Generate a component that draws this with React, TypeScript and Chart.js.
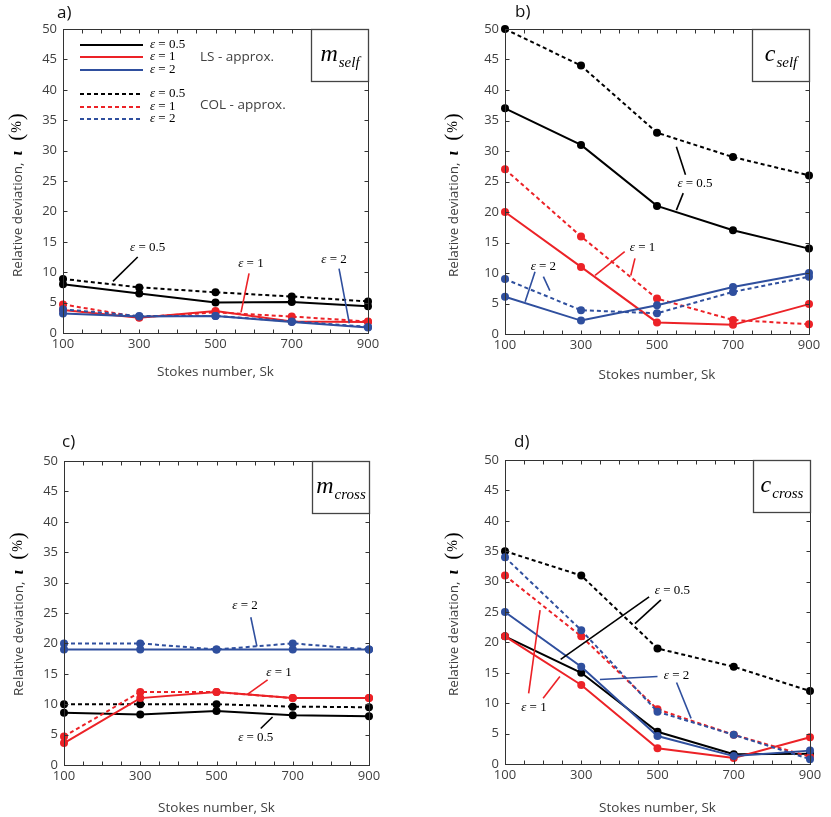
import React, { useEffect, useRef } from "react";
import { Chart, registerables } from "chart.js";

Chart.register(...registerables);

// ---------- data ----------
const stokes = [100, 300, 500, 700, 900];
const xTickValues = [100, 300, 500, 700, 900];
const xTickMarks = [100, 150, 200, 250, 300, 350, 400, 450, 500, 550, 600, 650, 700, 750, 800, 850, 900];
const yTickValues = [0, 5, 10, 15, 20, 25, 30, 35, 40, 45, 50];
const epsValues = ["0.5", "1", "2"];

// a) m_self
const aLS05 = [8.0, 6.5, 5.0, 5.1, 4.4];
const aLS1 = [3.8, 2.5, 3.6, 1.9, 1.8];
const aLS2 = [3.2, 2.7, 2.8, 1.8, 0.9];
const aCOL05 = [8.9, 7.5, 6.7, 6.0, 5.2];
const aCOL1 = [4.7, 2.6, 3.4, 2.7, 1.9];
const aCOL2 = [3.9, 2.8, 2.8, 1.9, 1.0];

// b) c_self
const bLS05 = [37, 31, 21, 17, 14];
const bLS1 = [20, 11, 1.9, 1.5, 4.9];
const bLS2 = [6.1, 2.2, 4.7, 7.7, 10];
const bCOL05 = [50, 44, 33, 29, 26];
const bCOL1 = [27, 16, 5.8, 2.3, 1.6];
const bCOL2 = [9, 3.9, 3.4, 6.9, 9.4];

// c) m_cross
const cLS05 = [8.6, 8.3, 8.9, 8.2, 8.0];
const cLS1 = [3.6, 11, 12, 11, 11];
const cLS2 = [19, 19, 19, 19, 19];
const cCOL05 = [10, 10, 10, 9.6, 9.5];
const cCOL1 = [4.7, 12, 12, 11, 11];
const cCOL2 = [20, 20, 19, 20, 19];

// d) c_cross
const dLS05 = [21, 15, 5.3, 1.6, 1.7];
const dLS1 = [21, 13, 2.6, 1.0, 4.4];
const dLS2 = [25, 16, 4.6, 1.3, 2.2];
const dCOL05 = [35, 31, 19, 16, 12];
const dCOL1 = [31, 21, 9, 4.8, 1.2];
const dCOL2 = [34, 22, 8.6, 4.8, 0.8];

// ---------- styles ----------
const BLACK = "#000000";
const RED = "#ec2227";
const BLUE = "#2f4f9e";
const SERIES_COLORS = [BLACK, RED, BLUE];
const TEXT = "#404040";
const AXIS = "#333333";
const SANS = '"Open Sans", "Noto Sans", sans-serif';
const SERIF = '"Liberation Serif", "DejaVu Serif", serif';

type Note = { eps: string; at: [number, number]; color: string; leaders: [number, number, number, number][] };
type Panel = {
  id: string;
  label: string;
  sym: string;
  sub: string;
  canvas: { x: number; y: number; w: number; h: number };
  plot: { l: number; t: number; r: number; b: number };
  yTitle: { x: number; y: number };
  xTitleDy: number;
  labelPos: { dx: number; dy: number };
  ls: number[][];
  col: number[][];
  notes: Note[];
  legend: boolean;
};

const panels: Panel[] = [
  {
    id: "a", label: "a)", sym: "m", sub: "self",
    canvas: { x: 0, y: 0, w: 415, h: 405 },
    plot: { l: 63, t: 29, r: 368, b: 333 },
    yTitle: { x: 22, y: 277 },
    xTitleDy: 39,
    labelPos: { dx: -6, dy: -15.5 },
    ls: [aLS05, aLS1, aLS2],
    col: [aCOL05, aCOL1, aCOL2],
    notes: [
      { eps: "0.5", at: [322, 14.1], color: BLACK, leaders: [[296, 12.5, 231, 8.5]] },
      { eps: "1", at: [593, 11.5], color: RED, leaders: [[588, 9.8, 567, 3.4]] },
      { eps: "2", at: [811, 12.0], color: BLUE, leaders: [[824, 10.6, 851, 1.6]] },
    ],
    legend: true,
  },
  {
    id: "b", label: "b)", sym: "c", sub: "self",
    canvas: { x: 415, y: 0, w: 416, h: 405 },
    plot: { l: 505, t: 29, r: 809, b: 334 },
    yTitle: { x: 458, y: 277 },
    xTitleDy: 41,
    labelPos: { dx: 10, dy: -17 },
    ls: [bLS05, bLS1, bLS2],
    col: [bCOL05, bCOL1, bCOL2],
    notes: [
      { eps: "0.5", at: [600, 24.7], color: BLACK, leaders: [[551, 30.7, 575, 26.1], [569, 23.1, 551, 20.3]] },
      { eps: "1", at: [462, 14.2], color: RED, leaders: [[415, 13.5, 337, 9.6], [442, 12.4, 431, 9.6]] },
      { eps: "2", at: [201, 11.0], color: BLUE, leaders: [[179, 10.2, 153, 5.3], [201, 9.4, 218, 7.1]] },
    ],
    legend: false,
  },
  {
    id: "c", label: "c)", sym: "m", sub: "cross",
    canvas: { x: 0, y: 405, w: 415, h: 412 },
    plot: { l: 64, t: 461, r: 369, b: 765 },
    yTitle: { x: 23, y: 696 },
    xTitleDy: 43,
    labelPos: { dx: -2, dy: -19 },
    ls: [cLS05, cLS1, cLS2],
    col: [cCOL05, cCOL1, cCOL2],
    notes: [
      { eps: "2", at: [575, 26.2], color: BLUE, leaders: [[590, 24.3, 606, 19.5]] },
      { eps: "1", at: [664, 15.2], color: RED, leaders: [[634, 14.0, 581, 11.6]] },
      { eps: "0.5", at: [603, 4.5], color: BLACK, leaders: [[616, 6.0, 647, 7.9]] },
    ],
    legend: false,
  },
  {
    id: "d", label: "d)", sym: "c", sub: "cross",
    canvas: { x: 415, y: 405, w: 416, h: 412 },
    plot: { l: 505, t: 460, r: 810, b: 764 },
    yTitle: { x: 458, y: 696 },
    xTitleDy: 44,
    labelPos: { dx: 9, dy: -18 },
    ls: [dLS05, dLS1, dLS2],
    col: [dCOL05, dCOL1, dCOL2],
    notes: [
      { eps: "0.5", at: [539, 28.6], color: BLACK, leaders: [[478, 27.5, 246, 17.2], [509, 27.0, 441, 23.1]] },
      { eps: "2", at: [550, 14.6], color: BLUE, leaders: [[500, 14.4, 349, 13.9], [550, 13.4, 588, 7.5]] },
      { eps: "1", at: [176, 9.3], color: RED, leaders: [[162, 11.6, 192, 25.3], [200, 10.8, 244, 14.4]] },
    ],
    legend: false,
  },
];

const LEGEND = {
  solidRows: [16, 28, 41],
  dashedRows: [65, 78, 90],
  lineFrom: 17,
  lineTo: 80,
  textAt: 87,
  groupTextX: 137,
  lsY: 28,
  colY: 76,
};

const DASH = [4, 3];

function drawEps(ctx: CanvasRenderingContext2D, eps: string, x: number, y: number, align: "left" | "center") {
  const size = 13;
  ctx.font = `italic ${size}px ${SERIF}`;
  const w1 = ctx.measureText("ε").width;
  ctx.font = `${size}px ${SERIF}`;
  const rest = " = " + eps;
  const w2 = ctx.measureText(rest).width;
  const start = align === "center" ? x - (w1 + w2) / 2 : x;
  ctx.textAlign = "left";
  ctx.textBaseline = "middle";
  ctx.fillStyle = "#000";
  ctx.font = `italic ${size}px ${SERIF}`;
  ctx.fillText("ε", start, y);
  ctx.font = `${size}px ${SERIF}`;
  ctx.fillText(rest, start + w1, y);
}

function PanelChart({ p }: { p: Panel }) {
  const ref = useRef<HTMLCanvasElement>(null);
  useEffect(() => {
    const canvas = ref.current;
    if (!canvas) return;
    const yw = 30;
    const xh = 30;
    const padding = {
      left: p.plot.l - p.canvas.x - yw,
      top: p.plot.t - p.canvas.y,
      right: p.canvas.x + p.canvas.w - p.plot.r,
      bottom: p.canvas.y + p.canvas.h - p.plot.b - xh,
    };

    const datasets: any[] = [];
    for (const i of [2, 1, 0]) {
      const color = SERIES_COLORS[i];
      const common = {
        borderColor: color,
        backgroundColor: color,
        pointBackgroundColor: color,
        pointBorderColor: color,
        pointBorderWidth: 0,
        pointRadius: 4,
        pointHoverRadius: 4,
        borderWidth: 2,
        tension: 0,
        clip: false,
      };
      datasets.push({
        ...common,
        label: `LS ε=${epsValues[i]}`,
        data: stokes.map((x, k) => ({ x, y: p.ls[i][k] })),
      });
      datasets.push({
        ...common,
        label: `COL ε=${epsValues[i]}`,
        data: stokes.map((x, k) => ({ x, y: p.col[i][k] })),
        borderDash: DASH,
      });
    }

    const deco = {
      id: "deco" + p.id,
      afterDatasetsDraw(chart: any) {
        const ctx: CanvasRenderingContext2D = chart.ctx;
        const a = chart.chartArea;
        const xs = chart.scales.x;
        const ys = chart.scales.y;
        ctx.save();

        // annotations
        for (const n of p.notes) {
          ctx.strokeStyle = n.color;
          ctx.lineWidth = 1.6;
          ctx.setLineDash([]);
          for (const [x1, y1, x2, y2] of n.leaders) {
            ctx.beginPath();
            ctx.moveTo(xs.getPixelForValue(x1), ys.getPixelForValue(y1));
            ctx.lineTo(xs.getPixelForValue(x2), ys.getPixelForValue(y2));
            ctx.stroke();
          }
          drawEps(ctx, n.eps, xs.getPixelForValue(n.at[0]), ys.getPixelForValue(n.at[1]), "center");
        }

        // legend
        if (p.legend) {
          const rows = [LEGEND.solidRows, LEGEND.dashedRows];
          rows.forEach((r, ri) => {
            r.forEach((dy, i) => {
              ctx.strokeStyle = SERIES_COLORS[i];
              ctx.lineWidth = 2.2;
              ctx.setLineDash(ri === 0 ? [] : DASH);
              ctx.beginPath();
              ctx.moveTo(a.left + LEGEND.lineFrom, a.top + dy);
              ctx.lineTo(a.left + LEGEND.lineTo, a.top + dy);
              ctx.stroke();
              ctx.setLineDash([]);
              drawEps(ctx, epsValues[i], a.left + LEGEND.textAt, a.top + dy, "left");
            });
          });
          ctx.font = `13.5px ${SANS}`;
          ctx.fillStyle = TEXT;
          ctx.textAlign = "left";
          ctx.textBaseline = "middle";
          ctx.fillText("LS - approx.", a.left + LEGEND.groupTextX, a.top + LEGEND.lsY);
          ctx.fillText("COL - approx.", a.left + LEGEND.groupTextX, a.top + LEGEND.colY);
        }

        // frame
        ctx.setLineDash([]);
        ctx.strokeStyle = AXIS;
        ctx.lineWidth = 1;
        const L = Math.round(a.left) + 0.5;
        const R = Math.round(a.right) + 0.5;
        const T = Math.round(a.top) + 0.5;
        const B = Math.round(a.bottom) + 0.5;
        ctx.strokeRect(L, T, R - L, B - T);
        const tl = 4;
        ctx.beginPath();
        for (const v of xTickMarks) {
          const px = Math.round(xs.getPixelForValue(v)) + 0.5;
          ctx.moveTo(px, B);
          ctx.lineTo(px, B - tl);
          ctx.moveTo(px, T);
          ctx.lineTo(px, T + tl);
        }
        for (const v of yTickValues) {
          const py = Math.round(ys.getPixelForValue(v)) + 0.5;
          ctx.moveTo(L, py);
          ctx.lineTo(L + tl, py);
          ctx.moveTo(R, py);
          ctx.lineTo(R - tl, py);
        }
        ctx.stroke();

        // symbol box
        const bw = 57;
        const bh = 52;
        const bx = R - bw;
        ctx.fillStyle = "#ffffff";
        ctx.fillRect(bx, T, bw, bh);
        ctx.strokeStyle = "#444";
        ctx.lineWidth = 1.3;
        ctx.strokeRect(bx, T, bw, bh);
        ctx.font = `italic 24px ${SERIF}`;
        const w1 = ctx.measureText(p.sym).width;
        ctx.font = `italic 15px ${SERIF}`;
        const w2 = ctx.measureText(p.sub).width;
        const sx = bx + bw / 2 - (w1 + w2 + 1) / 2;
        ctx.fillStyle = "#000";
        ctx.textAlign = "left";
        ctx.textBaseline = "alphabetic";
        ctx.font = `italic 24px ${SERIF}`;
        ctx.fillText(p.sym, sx, T + 31);
        ctx.font = `italic 15px ${SERIF}`;
        ctx.fillText(p.sub, sx + w1 + 1, T + 37);

        // x title
        ctx.font = `13.5px ${SANS}`;
        ctx.fillStyle = TEXT;
        ctx.textAlign = "center";
        ctx.textBaseline = "middle";
        ctx.fillText("Stokes number, Sk", (a.left + a.right) / 2, a.bottom + p.xTitleDy);

        // panel label
        ctx.font = `17px ${SANS}`;
        ctx.fillStyle = "#111";
        ctx.textAlign = "left";
        ctx.fillText(p.label, a.left + p.labelPos.dx, a.top + p.labelPos.dy);

        // y title (rotated)
        ctx.save();
        ctx.translate(p.yTitle.x - p.canvas.x, p.yTitle.y - p.canvas.y);
        ctx.rotate(-Math.PI / 2);
        ctx.textAlign = "left";
        ctx.textBaseline = "alphabetic";
        ctx.font = `13.5px ${SANS}`;
        ctx.fillStyle = TEXT;
        const main = "Relative deviation,";
        ctx.fillText(main, 0, 0);
        const mw = ctx.measureText(main).width;
        ctx.fillStyle = "#000";
        ctx.font = `italic bold 17px ${SERIF}`;
        const ix = mw + 7;
        ctx.fillText("ι", ix, 0);
        let px = ix + ctx.measureText("ι").width + 10;
        ctx.font = `21px ${SERIF}`;
        ctx.fillText("(", px, 1);
        px += ctx.measureText("(").width + 1;
        ctx.font = `14px ${SERIF}`;
        ctx.fillText("%", px, -1);
        px += ctx.measureText("%").width + 1;
        ctx.font = `21px ${SERIF}`;
        ctx.fillText(")", px, 1);
        ctx.restore();

        ctx.restore();
      },
    };

    const chart = new Chart(canvas, {
      type: "line",
      data: { datasets },
      options: {
        animation: false,
        responsive: false,
        events: [],
        layout: { padding },
        plugins: { legend: { display: false }, tooltip: { enabled: false } },
        scales: {
          x: {
            type: "linear",
            min: 100,
            max: 900,
            afterBuildTicks: (s: any) => {
              s.ticks = xTickValues.map((v) => ({ value: v }));
            },
            afterFit: (s: any) => {
              s.height = xh;
            },
            grid: { display: false, drawTicks: false },
            border: { display: false },
            ticks: {
              padding: 3,
              color: TEXT,
              font: { family: SANS, size: 13 },
              maxRotation: 0,
              autoSkip: false,
              callback: (v: any) => String(v),
            },
          },
          y: {
            type: "linear",
            min: 0,
            max: 50,
            afterBuildTicks: (s: any) => {
              s.ticks = yTickValues.map((v) => ({ value: v }));
            },
            afterFit: (s: any) => {
              s.width = yw;
            },
            grid: { display: false, drawTicks: false },
            border: { display: false },
            ticks: {
              padding: 6,
              color: TEXT,
              font: { family: SANS, size: 13 },
              autoSkip: false,
              callback: (v: any) => String(v),
            },
          },
        },
      },
      plugins: [deco],
    } as any);
    return () => chart.destroy();
  }, [p]);

  return (
    <canvas
      ref={ref}
      width={p.canvas.w}
      height={p.canvas.h}
      style={{ position: "absolute", left: p.canvas.x, top: p.canvas.y, width: p.canvas.w, height: p.canvas.h }}
    />
  );
}

export default function App() {
  return (
    <div style={{ position: "absolute", left: 0, top: 0, width: 831, height: 817, background: "#fff" }}>
      {panels.map((p) => (
        <PanelChart key={p.id} p={p} />
      ))}
    </div>
  );
}
